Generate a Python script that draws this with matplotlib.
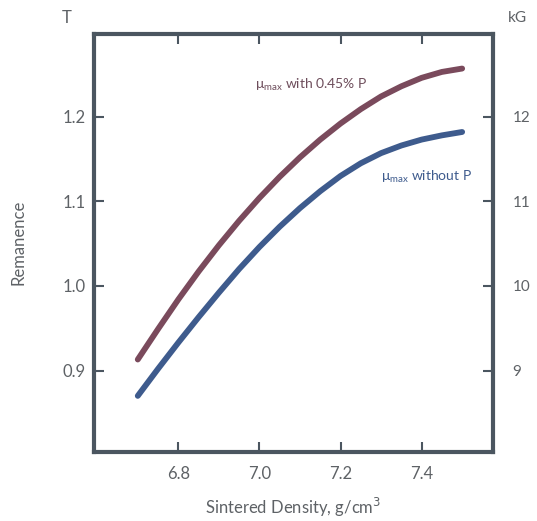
import matplotlib
matplotlib.use("Agg")
import matplotlib.pyplot as plt

plt.rcParams['font.family'] = ['Lato', 'DejaVu Sans']

# sintered density, g/cm3
density = [6.70, 6.75, 6.80, 6.85, 6.90, 6.95, 7.00, 7.05, 7.10,
           7.15, 7.20, 7.25, 7.30, 7.35, 7.40, 7.45, 7.50]
# remanence in T
with_p = [0.913, 0.949, 0.984, 1.017, 1.048, 1.077, 1.104, 1.129, 1.152,
          1.173, 1.192, 1.209, 1.224, 1.236, 1.246, 1.253, 1.257]
without_p = [0.870, 0.902, 0.933, 0.963, 0.992, 1.020, 1.046, 1.070, 1.092,
             1.112, 1.130, 1.145, 1.157, 1.166, 1.173, 1.178, 1.182]

x_ticks = [6.8, 7.0, 7.2, 7.4]
t_ticks = [0.9, 1.0, 1.1, 1.2]
t_labels = ['0.9', '1.0', '1.1', '1.2']
kg_ticks = [9, 10, 11, 12]

frame = '#4b5660'
text_c = '#5e6266'
c_with = '#7a4a5c'
c_without = '#3e5b8d'

fig = plt.figure(figsize=(5.37, 5.21), dpi=100)
ax = fig.add_axes([0.175, 0.133, 0.743, 0.802])

ax.plot(density, with_p, color=c_with, lw=4.2, solid_capstyle='round')
ax.plot(density, without_p, color=c_without, lw=4.2, solid_capstyle='round')

ax.set_xlim(6.592, 7.576)
ax.set_ylim(0.804, 1.298)

for s in ax.spines.values():
    s.set_color(frame)
    s.set_linewidth(3)

ax.set_xticks(x_ticks)
ax.set_xticklabels([f'{v:.1f}' for v in x_ticks])
ax.set_yticks(t_ticks)
ax.set_yticklabels(t_labels)
ax.tick_params(axis='both', direction='in', length=7.5, width=1.5,
               color=frame, labelcolor=text_c, labelsize=12)
ax.tick_params(axis='x', top=True, pad=10)
ax.tick_params(axis='y', pad=6)

sec = ax.secondary_yaxis('right', functions=(lambda t: t * 10, lambda k: k / 10))
sec.set_yticks(kg_ticks)
sec.set_yticklabels([str(k) for k in kg_ticks])
sec.spines['right'].set_visible(False)
sec.tick_params(direction='in', length=7.5, width=1.5, color=frame,
                labelcolor=text_c, labelsize=11, pad=14)

ax.set_xlabel('Sintered Density, g/cm$^3$', color=text_c, fontsize=12, labelpad=10)
ax.set_ylabel('Remanence', color=text_c, fontsize=12, labelpad=26)

fig.text(67 / 537, 1 - 18 / 521, 'T', color=text_c, fontsize=12,
         ha='center', va='center')
fig.text(517 / 537, 1 - 18 / 521, 'kG', color=text_c, fontsize=11,
         ha='center', va='center')

ax.text(6.99, 1.238, r'μ$_{\mathregular{max}}$ with 0.45% P', color='#6e4e5c',
        fontsize=10, ha='left', va='center')
ax.text(7.30, 1.129, r'μ$_{\mathregular{max}}$ without P', color=c_without,
        fontsize=10, ha='left', va='center')

fig.savefig('out.png', dpi=100)
